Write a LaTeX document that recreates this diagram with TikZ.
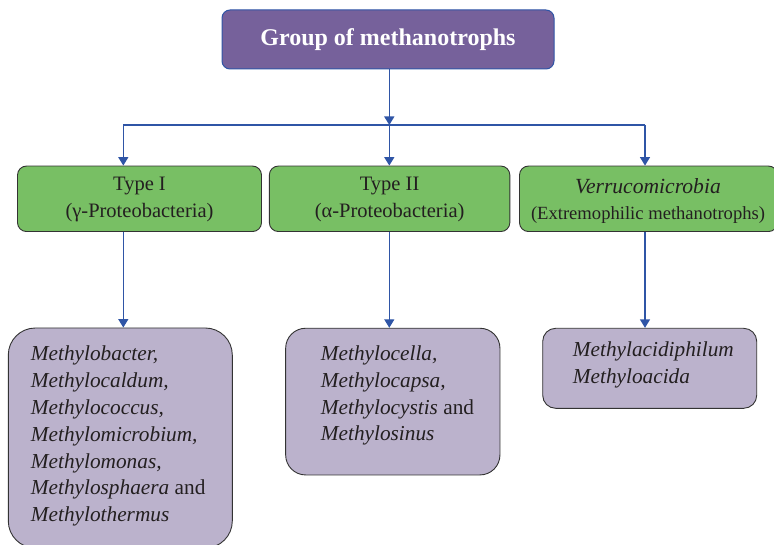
\documentclass[tikz,border=0pt]{standalone}
\usepackage{fontspec}
\setmainfont{Liberation Serif}
\usetikzlibrary{arrows.meta}

\definecolor{linkblue}{HTML}{2F55A6}
\definecolor{headfill}{HTML}{76619B}
\definecolor{typefill}{HTML}{78BF64}
\definecolor{genfill}{HTML}{BBB2CC}
\definecolor{edgegray}{HTML}{333333}
\definecolor{inkgray}{HTML}{231F20}

\tikzset{
  headbox/.style={draw=linkblue, fill=headfill, line width=1pt, rounded corners=8pt,
    inner sep=0pt, text=white, font=\fontsize{24}{28}\selectfont\bfseries},
  typebox/.style={draw=edgegray, fill=typefill, line width=0.9pt, rounded corners=9pt,
    inner sep=0pt},
  genbox/.style={draw=edgegray, fill=genfill, line width=0.9pt, inner sep=0pt},
  typetext/.style={inner sep=0pt, text=inkgray, align=center},
  gentext/.style={inner sep=0pt, anchor=north west, align=left, text=inkgray},
  link/.style={draw=linkblue, line width=1.4pt},
  tip/.style={-{Triangle[length=8.5pt,width=10pt]}}
}

\begin{document}
\begin{tikzpicture}[x=1pt,y=-1pt]
\useasboundingbox (0,0) rectangle (774,545);

% top heading
\node[headbox, minimum width=332, minimum height=59] (head) at (388,39.5)
  {Group of methanotrophs};

% the three groups
\node[typebox, minimum width=244, minimum height=65.5] (t1) at (139.5,198.8) {};
\node[typebox, minimum width=240.5, minimum height=65.5] (t2) at (389.6,198.8) {};
\node[typebox, minimum width=258, minimum height=65.5] (t3) at (648.5,198.8) {};

\node[typetext, anchor=base, font=\fontsize{20.5}{24}\selectfont] (t1a) at (139.5,190.7) {Type I};
\node[typetext, anchor=base, font=\fontsize{20.5}{24}\selectfont] (t1b) at (139.5,218) {(γ-Proteobacteria)};
\node[typetext, anchor=base, font=\fontsize{20.5}{24}\selectfont] (t2a) at (389.6,190.7) {Type II};
\node[typetext, anchor=base, font=\fontsize{20.5}{24}\selectfont] (t2b) at (389.6,218) {(α-Proteobacteria)};
\node[typetext, anchor=base, font=\fontsize{21.6}{24}\selectfont\itshape] (t3a) at (648,193.5) {Verrucomicrobia};
\node[typetext, anchor=base, font=\fontsize{18.6}{22}\selectfont] (t3b) at (648,220) {(Extremophilic methanotrophs)};

% genera of each group
\node[genbox, rounded corners=27pt, minimum width=224, minimum height=220] (g1) at (120.3,438) {};
\node[genbox, rounded corners=20pt, minimum width=214.3, minimum height=146.7] (g2) at (392.8,401.6) {};
\node[genbox, rounded corners=13pt, minimum width=214, minimum height=80] (g3) at (649.7,368.3) {};

\node[gentext, font=\fontsize{21.3}{26.8}\selectfont] (g1t) at (30.7,341.9)
  {\strut\textit{Methylobacter,}\\
   \textit{Methylocaldum,}\\
   \textit{Methylococcus,}\\
   \textit{Methylomicrobium,}\\
   \textit{Methylomonas,}\\
   \textit{Methylosphaera} and\\
   \textit{Methylothermus}};
\node[gentext, font=\fontsize{21.3}{26.6}\selectfont] (g2t) at (320.7,342.1)
  {\strut\textit{Methylocella,}\\
   \textit{Methylocapsa,}\\
   \textit{Methylocystis} and\\
   \textit{Methylosinus}};
\node[gentext, font=\fontsize{21.3}{26.6}\selectfont] (g3t) at (572.7,338.1)
  {\strut\textit{Methylacidiphilum}\\
   \textit{Methyloacida}};

% connectors
\coordinate (split) at (389.3,125);
\coordinate (left) at (123.3,125);
\coordinate (right) at (645,125);

\draw[link, tip] (head.south -| split) -- (split);
\draw[link] (left) -- (right);
\draw[link, tip] (left) -- (left |- t1.north);
\draw[link, tip] (split) -- (split |- t2.north);
\draw[link, tip] (right) -- (right |- t3.north);

\draw[link, tip] (left |- t1.south) -- (left |- g1.north);
\draw[link, tip] (split |- t2.south) -- (split |- g2.north);
\draw[link, tip] (right |- t3.south) -- (right |- g3.north);
\end{tikzpicture}
\end{document}
